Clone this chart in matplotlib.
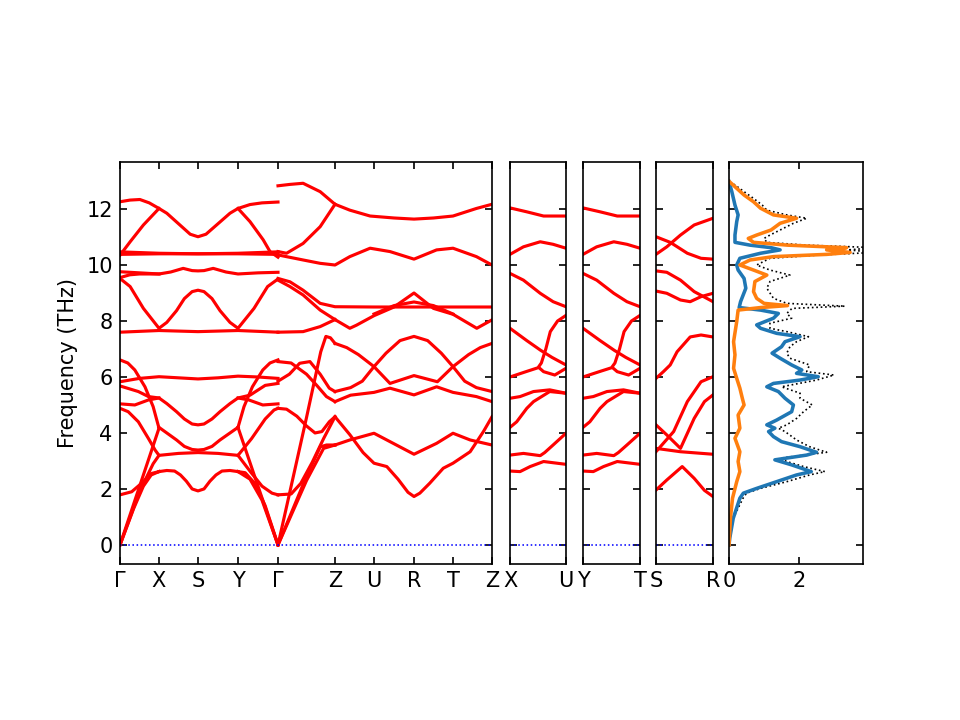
import numpy as np
import matplotlib.pyplot as plt

# high-symmetry points of the main path (path distance) and their labels
main_ticks = [0.0, 0.39, 0.78, 1.18, 1.58, 2.15, 2.54, 2.94, 3.33, 3.72]
main_labels = ['Γ', 'X', 'S', 'Y', 'Γ', 'Z', 'U', 'R', 'T', 'Z']

# bands of the main path: (segment position, frequency in THz)
# segment position 0..9 -> Γ X S Y Γ | Z U R T Z
main_bands = [
    # Γ-X-S-Y-Γ, upper part
    ([0, 0.26, 0.51, 0.75, 1, 1.2, 1.4, 1.6, 1.8, 2, 2.2, 2.4, 2.6, 2.8, 3, 3.3, 3.6, 4],
     [12.26, 12.32, 12.34, 12.22, 12.02, 11.85, 11.6, 11.35, 11.1, 11.01, 11.1, 11.35, 11.6,
      11.85, 12.02, 12.16, 12.22, 12.25]),
    ([0, 0.26, 0.6, 1], [10.35, 10.83, 11.43, 12.02]),
    ([3, 3.3, 3.63, 3.8, 4], [12.02, 11.55, 10.9, 10.48, 10.28]),
    ([0, 1, 2, 3, 4], [10.47, 10.42, 10.4, 10.42, 10.47]),
    ([0, 1, 2, 3, 4], [10.38, 10.4, 10.4, 10.4, 10.38]),
    ([0, 0.5, 1, 1.3, 1.62, 1.85, 2, 2.15, 2.38, 2.7, 3, 3.5, 4],
     [9.76, 9.72, 9.68, 9.75, 9.88, 9.8, 9.79, 9.8, 9.88, 9.75, 9.68, 9.72, 9.74]),
    ([0, 0.25, 0.5, 1], [9.55, 9.65, 9.68, 9.68]),
    ([0, 0.26, 0.6, 1, 1.2, 1.45, 1.65, 1.85, 2, 2.15, 2.35, 2.55, 2.8, 3, 3.4, 3.74, 4],
     [9.52, 9.23, 8.45, 7.74, 7.95, 8.37, 8.8, 9.05, 9.1, 9.05, 8.8, 8.37, 7.95, 7.74,
      8.45, 9.23, 9.5]),
    ([0, 1, 2, 3, 4], [7.6, 7.66, 7.62, 7.66, 7.6]),
    # Γ-X-S-Y-Γ, lower part
    ([0, 0.5, 1, 1.5, 2, 2.5, 3, 3.5, 4], [5.83, 5.95, 6.01, 5.97, 5.93, 5.97, 6.03, 6.0, 5.95]),
    ([0, 0.2, 0.38, 0.64, 0.85, 1], [6.61, 6.5, 6.25, 5.65, 4.94, 4.17]),
    ([3, 3.15, 3.36, 3.62, 3.8, 4], [4.2, 4.94, 5.65, 6.25, 6.5, 6.61]),
    ([0, 0.47, 0.73, 1, 1.2, 1.45, 1.65, 1.85, 2, 2.15, 2.35, 2.55, 2.8, 3, 3.3, 3.68, 4],
     [5.68, 5.48, 5.3, 5.25, 5.05, 4.76, 4.5, 4.32, 4.29, 4.32, 4.5, 4.76, 5.05, 5.25,
      5.35, 5.7, 5.77]),
    ([0, 0.38, 0.73, 1], [5.04, 5.0, 5.18, 5.25]),
    ([3, 3.27, 3.62, 4], [5.25, 5.18, 5.0, 5.04]),
    ([0, 0.21, 0.47, 0.73, 0.9, 1, 1.5, 2, 2.5, 3],
     [4.88, 4.76, 4.4, 3.8, 3.39, 3.2, 3.27, 3.3, 3.27, 3.2]),
    ([3, 3.34, 3.68, 3.9, 4], [3.2, 3.8, 4.5, 4.82, 4.88]),
    ([1, 1.2, 1.45, 1.65, 1.85, 2, 2.15, 2.35, 2.55, 2.8, 3],
     [4.2, 4.0, 3.75, 3.52, 3.41, 3.39, 3.41, 3.52, 3.75, 4.0, 4.2]),
    ([1, 1.2, 1.4, 1.55, 1.7, 1.85, 2, 2.15, 2.3, 2.45, 2.6, 2.8, 3],
     [2.62, 2.66, 2.64, 2.5, 2.28, 2.0, 1.93, 2.0, 2.28, 2.5, 2.64, 2.66, 2.62]),
    ([0, 0.3, 0.55, 0.8, 1], [1.79, 1.9, 2.2, 2.55, 2.62]),
    ([3, 3.33, 3.6, 3.85, 4], [3.2, 2.58, 2.1, 1.85, 1.79]),
    ([0, 0.35, 0.6, 0.8, 1], [0, 1.3, 2.1, 2.5, 2.62]),
    ([0, 0.5, 0.85, 1], [0, 1.9, 2.9, 3.2]),
    ([0, 1], [0, 4.17]),
    ([3, 3.18, 3.42, 3.68, 4], [2.62, 2.58, 2.2, 1.4, 0]),
    ([3, 3.3, 3.6, 4], [2.62, 2.35, 1.6, 0]),
    ([3, 4], [4.2, 0]),
    # Γ-Z-U-R-T-Z, upper part
    ([4, 4.21, 4.44, 4.74, 5], [12.83, 12.88, 12.92, 12.62, 12.17]),
    ([4, 4.15, 4.44, 4.74, 5], [10.48, 10.42, 10.77, 11.37, 12.17]),
    ([5, 5.38, 5.9, 6.5, 7, 7.5, 8, 8.6, 9],
     [12.17, 11.96, 11.75, 11.68, 11.64, 11.68, 11.75, 12.02, 12.17]),
    ([4, 4.44, 4.74, 5, 5.38, 5.9, 6.4, 7, 7.58, 8, 8.6, 9],
     [10.36, 10.18, 10.06, 10.0, 10.3, 10.6, 10.48, 10.21, 10.54, 10.6, 10.3, 10.0]),
    ([4, 4.21, 4.44, 4.74, 5, 6, 7, 8, 9], [9.52, 9.4, 9.1, 8.63, 8.51, 8.5, 8.5, 8.5, 8.5]),
    ([4, 4.21, 4.44, 4.74, 5], [9.46, 9.23, 8.93, 8.39, 8.05]),
    ([4, 4.44, 4.74, 5], [7.6, 7.62, 7.8, 8.05]),
    ([5, 5.38, 5.55, 6, 6.5, 7, 7.5, 8, 8.61, 9],
     [8.05, 7.74, 7.85, 8.19, 8.5, 9.0, 8.45, 8.24, 7.74, 8.04]),
    ([6, 6.5, 7, 7.5, 8], [8.25, 8.55, 8.68, 8.55, 8.25]),
    # Γ-Z-U-R-T-Z, lower part
    ([4, 4.23, 4.5, 4.68, 4.85, 5], [6.55, 6.5, 6.1, 5.7, 5.3, 5.12]),
    ([4, 4.2, 4.38, 4.56, 4.74, 4.9, 5], [5.85, 6.1, 6.49, 6.55, 6.1, 5.6, 5.48]),
    ([4, 4.15, 4.33, 4.5, 4.65, 4.77, 4.9, 5], [4.88, 4.85, 4.6, 4.25, 4.0, 4.05, 4.4, 4.58]),
    ([4, 4.23, 4.4, 4.6, 4.8, 5], [1.79, 1.82, 2.2, 2.95, 3.8, 4.58]),
    ([4, 4.5, 4.75, 4.84, 4.92, 5], [0, 4.55, 6.9, 7.45, 7.4, 7.2]),
    ([4, 4.5, 4.74, 4.85, 5], [0, 2.45, 3.5, 3.57, 3.57]),
    ([4, 4.5, 4.8, 5], [0, 2.3, 3.45, 3.57]),
    ([5, 5.3, 5.6, 6, 6.4, 7, 7.6, 8, 8.4, 8.7, 9],
     [7.2, 7.05, 6.8, 6.37, 5.77, 6.05, 5.83, 6.37, 6.8, 7.05, 7.2]),
    ([5, 5.4, 5.7, 6, 6.3, 6.65, 7, 7.35, 7.7, 8, 8.3, 8.6, 9],
     [5.48, 5.62, 5.85, 6.37, 6.85, 7.3, 7.45, 7.3, 6.85, 6.37, 5.85, 5.62, 5.48]),
    ([5, 5.4, 6, 6.4, 7, 7.58, 8, 8.6, 9], [5.12, 5.35, 5.45, 5.6, 5.36, 5.65, 5.45, 5.3, 5.12]),
    ([5, 5.38, 6, 6.4, 7, 7.58, 8, 8.44, 9], [3.57, 3.75, 3.99, 3.69, 3.24, 3.63, 3.99, 3.75, 3.57]),
    ([5, 5.38, 5.72, 6, 6.32, 6.6, 6.85, 7, 7.15, 7.4, 7.75, 8, 8.44, 8.78, 9],
     [4.58, 3.94, 3.3, 2.92, 2.8, 2.35, 1.88, 1.73, 1.85, 2.2, 2.74, 2.92, 3.33, 4.05, 4.58]),
]

# X-U path (the Y-T path looks the same), position 0..1
xu_bands = [
    ([0, 0.3, 0.6, 1], [12.04, 11.9, 11.75, 11.75]),
    ([0, 0.24, 0.54, 0.77, 1], [10.38, 10.65, 10.83, 10.74, 10.6]),
    ([0, 0.24, 0.54, 0.77, 1], [9.7, 9.46, 8.99, 8.69, 8.51]),
    ([0, 0.3, 0.55, 0.75, 1], [7.74, 7.3, 6.95, 6.7, 6.43]),
    ([0, 0.3, 0.5, 0.56, 0.64, 0.72, 0.85, 1], [6.0, 6.2, 6.33, 6.5, 7.0, 7.62, 8.0, 8.2]),
    ([0.52, 0.6, 0.8, 1], [6.33, 6.19, 6.07, 6.31]),
    ([0, 0.18, 0.42, 0.71, 1], [5.24, 5.3, 5.48, 5.54, 5.42]),
    ([0, 0.12, 0.3, 0.42, 0.71, 1], [4.2, 4.4, 4.88, 5.12, 5.48, 5.42]),
    ([0, 0.24, 0.54, 0.62, 0.77, 1], [3.21, 3.27, 3.19, 3.3, 3.57, 3.99]),
    ([0, 0.18, 0.36, 0.6, 1], [2.64, 2.62, 2.8, 2.98, 2.88]),
]
yt_bands = xu_bands

# S-R path, position 0..1
sr_bands = [
    ([0, 0.19, 0.43, 0.67, 1], [10.38, 10.65, 11.07, 11.43, 11.67]),
    ([0, 0.25, 0.55, 0.79, 1], [11.01, 10.81, 10.42, 10.24, 10.21]),
    ([0, 0.19, 0.43, 0.67, 1], [9.79, 9.74, 9.46, 9.05, 8.69]),
    ([0, 0.19, 0.43, 0.6, 0.79, 1], [9.07, 8.99, 8.75, 8.69, 8.87, 8.99]),
    ([0, 0.13, 0.25, 0.37, 0.6, 0.79, 1], [5.95, 6.19, 6.43, 6.9, 7.43, 7.5, 7.43]),
    ([0, 0.31, 0.55, 0.79, 1], [3.33, 4.05, 5.12, 5.83, 6.01]),
    ([0, 0.19, 0.43, 0.67, 0.85, 1], [4.29, 3.93, 3.45, 4.52, 5.12, 5.36]),
    ([0, 0.43, 1], [3.45, 3.33, 3.24]),
    ([0, 0.19, 0.46, 0.67, 0.85, 1], [1.96, 2.32, 2.8, 2.38, 1.95, 1.73]),
]
side_labels = [('X', 'U'), ('Y', 'T'), ('S', 'R')]

# density of states
pdos1_freq = [0.0, 0.24, 0.95, 1.67, 1.85, 2.02, 2.26, 2.5, 2.62, 2.86, 3.04, 3.21, 3.31, 3.51,
              3.69, 3.87, 4.05, 4.17, 4.29, 4.46, 4.76, 5.0, 5.24, 5.48, 5.65, 5.77, 5.89, 6.01,
              6.13, 6.25, 6.43, 6.67, 6.85, 7.08, 7.26, 7.44, 7.56, 7.74, 7.86, 8.1, 8.27, 8.39,
              8.48, 8.69, 9.17, 9.52, 9.82, 10.0, 10.24, 10.42, 10.54, 10.62, 10.71, 10.81,
              11.07, 11.55, 11.79, 12.14, 12.62, 12.98]
pdos1 = [0.0, 0.02, 0.12, 0.31, 0.41, 0.79, 1.36, 1.93, 2.35, 1.79, 1.31, 2.22, 2.5, 2.03,
         1.5, 1.27, 1.13, 1.31, 1.08, 1.36, 1.79, 1.84, 1.6, 1.41, 1.08, 1.27, 2.03, 2.55,
         1.93, 2.08, 1.79, 1.46, 1.23, 1.5, 1.6, 2.03, 1.36, 0.9, 0.79, 1.27, 1.41, 0.9,
         0.29, 0.33, 0.48, 0.43, 0.26, 0.22, 0.31, 0.9, 1.46, 1.2, 0.6, 0.17,
         0.17, 0.22, 0.26, 0.17, 0.08, 0.0]

pdos2_freq = [0.0, 0.24, 0.95, 1.67, 2.26, 2.62, 2.98, 3.33, 3.81, 4.17, 4.64, 5.0, 5.24, 5.6,
              5.95, 6.31, 6.79, 7.26, 7.98, 8.39, 8.48, 8.55, 8.63, 8.81, 9.05, 9.41, 9.64, 9.82,
              10.0, 10.18, 10.3, 10.38, 10.45, 10.54, 10.62, 10.71, 10.81, 10.95, 11.07, 11.25,
              11.49, 11.67, 11.79, 12.03, 12.26, 12.5, 12.74, 12.98]
pdos2 = [0.0, 0.01, 0.04, 0.1, 0.22, 0.31, 0.26, 0.31, 0.17, 0.31, 0.26, 0.43, 0.38, 0.31,
         0.22, 0.13, 0.17, 0.13, 0.22, 0.26, 0.9, 1.67, 1.0, 0.79, 0.7, 0.74, 1.08, 0.7,
         0.31, 0.6, 1.27, 2.79, 3.46, 2.79, 3.36, 1.67, 0.7, 0.55, 0.79, 1.2,
         1.46, 1.93, 1.27, 0.9, 0.7, 0.43, 0.22, 0.01]

total_freq = [0.0, 0.24, 0.95, 1.67, 1.85, 2.02, 2.26, 2.5, 2.62, 2.8, 2.98, 3.1, 3.31, 3.51,
              3.75, 4.05, 4.17, 4.29, 4.52, 4.76, 5.0, 5.24, 5.42, 5.65, 5.89, 6.07, 6.19, 6.43,
              6.67, 6.85, 7.08, 7.26, 7.44, 7.62, 7.74, 7.92, 8.1, 8.27, 8.45, 8.53, 8.63, 8.81,
              9.17, 9.41, 9.64, 9.82, 10.0, 10.24, 10.36, 10.45, 10.54, 10.62, 10.71, 10.81,
              10.95, 11.07, 11.25, 11.49, 11.67, 11.79, 11.96, 12.14, 12.38, 12.62, 12.86, 12.98]
total_dos = [0.0, 0.03, 0.12, 0.4, 0.5, 0.9, 1.65, 2.3, 2.74, 2.13, 1.65, 1.46, 2.79, 2.3,
             1.93, 1.6, 1.41, 1.65, 1.93, 2.13, 2.38, 2.03, 2.03, 1.5, 2.5, 3.0, 2.22, 2.3,
             1.74, 1.65, 1.74, 1.93, 2.27, 1.65, 1.17, 1.17, 1.79, 1.65, 1.8, 3.31, 1.65, 1.27,
             1.08, 1.17, 1.74, 1.17, 0.79, 1.17, 2.6, 4.2, 3.4, 4.2, 2.2, 1.08,
             1.0, 1.17, 1.46, 1.84, 2.22, 1.65, 1.08, 0.95, 0.7, 0.43, 0.17, 0.0]

ylim = (-0.68, 13.68)


def style(ax):
    ax.set_ylim(*ylim)
    ax.set_yticks([0, 2, 4, 6, 8, 10, 12])
    ax.tick_params(direction='in', left=True, right=True, top=True, bottom=True)


fig = plt.figure(figsize=(6.4, 4.8), dpi=150)

# main band structure
ax = fig.add_axes([0.125, 0.2167, 0.3875, 0.5583])
seg_idx = np.arange(len(main_ticks))
for s, f in main_bands:
    ax.plot(np.interp(s, seg_idx, main_ticks), f, 'r-', lw=1.5)
ax.plot([main_ticks[0], main_ticks[-1]], [0, 0], 'b:', lw=0.75)
ax.set_xlim(main_ticks[0], main_ticks[-1])
ax.set_xticks(main_ticks)
ax.set_xticklabels(main_labels)
ax.set_ylabel('Frequency (THz)')
style(ax)

# side paths
side_pos = [(0.53125, 0.0583), (0.6073, 0.0594), (0.6833, 0.0594)]
for (left, width), bands, labels in zip(side_pos, [xu_bands, yt_bands, sr_bands], side_labels):
    a = fig.add_axes([left, 0.2167, width, 0.5583])
    for t, f in bands:
        a.plot(t, f, 'r-', lw=1.5)
    a.plot([0, 1], [0, 0], 'b:', lw=0.75)
    a.set_xlim(0, 1)
    a.set_xticks([0, 1])
    a.set_xticklabels(labels)
    style(a)
    a.set_yticklabels([])

# DOS
ad = fig.add_axes([0.7594, 0.2167, 0.1396, 0.5583])
ad.plot(total_dos, total_freq, 'k:', lw=0.8)
ad.plot(pdos1, pdos1_freq, color='tab:blue', lw=1.7)
ad.plot(pdos2, pdos2_freq, color='tab:orange', lw=1.7)
ad.set_xlim(0, 3.83)
ad.set_xticks([0, 2])
style(ad)
ad.set_yticklabels([])

fig.savefig('out.png', dpi=150)
